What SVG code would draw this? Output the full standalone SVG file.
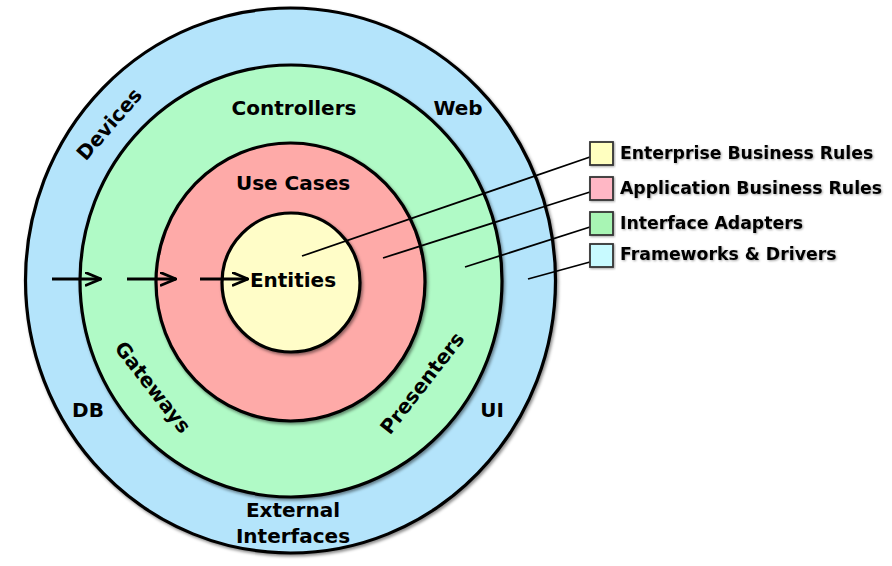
<svg xmlns="http://www.w3.org/2000/svg" width="892" height="566" viewBox="0 0 892 566">
<defs>
<filter id="sh" x="-10%" y="-10%" width="120%" height="120%">
<feDropShadow dx="1.5" dy="2" stdDeviation="1.8" flood-color="#000" flood-opacity="0.45"/>
</filter>
<filter id="tsh" x="-10%" y="-30%" width="120%" height="160%">
<feDropShadow dx="1" dy="1" stdDeviation="0.8" flood-color="#000" flood-opacity="0.35"/>
</filter>
<marker id="chev" viewBox="0 0 17 15" refX="16" refY="7.5" markerWidth="17" markerHeight="15" markerUnits="userSpaceOnUse" orient="auto">
<path d="M1,1.2 L16,7.5 L1,13.8" fill="none" stroke="#000" stroke-width="2.8" stroke-linecap="round" stroke-linejoin="round"/>
</marker>
</defs>
<style>
.ring{stroke:#000;stroke-width:3.2;filter:url(#sh)}
.lbl{font-family:"DejaVu Sans",Verdana,sans-serif;font-weight:bold;font-size:20px;fill:#000;text-anchor:middle}
.leg{font-family:"DejaVu Sans",Verdana,sans-serif;font-weight:bold;font-size:17.3px;fill:#000;filter:url(#tsh)}
.box{stroke:#333;stroke-width:1.8;filter:url(#tsh)}
.lead{stroke:#000;stroke-width:1.8;fill:none}
.arr{stroke:#000;stroke-width:2.8;fill:none;marker-end:url(#chev)}
</style>
<rect width="892" height="566" fill="#fff"/>
<g id="frameworks-drivers">
<ellipse class="ring" cx="290.5" cy="280.5" rx="265" ry="272.5" fill="#b4e4fb"/>
<text class="lbl" x="0" y="0" dy="0.36em" transform="translate(109,124) rotate(-49)">Devices</text>
<text class="lbl" x="458" y="115">Web</text>
<text class="lbl" x="88" y="417">DB</text>
<text class="lbl" x="492" y="417">UI</text>
<text class="lbl" x="293" y="517">External</text>
<text class="lbl" x="293" y="543">Interfaces</text>
</g>
<g id="interface-adapters">
<ellipse class="ring" cx="291" cy="281" rx="211" ry="216" fill="#b0fac6"/>
<text class="lbl" x="294" y="115">Controllers</text>
<text class="lbl" x="0" y="0" dy="0.36em" transform="translate(153,387) rotate(52)">Gateways</text>
<text class="lbl" x="0" y="0" dy="0.36em" transform="translate(422,383) rotate(-52)">Presenters</text>
</g>
<g id="application-business-rules">
<ellipse class="ring" cx="290.5" cy="282" rx="134.5" ry="139" fill="#feaaa8"/>
<text class="lbl" x="293" y="190">Use Cases</text>
</g>
<g id="enterprise-business-rules">
<ellipse class="ring" cx="291" cy="282.5" rx="69" ry="69.5" fill="#fffdc8"/>
<text class="lbl" x="293" y="287">Entities</text>
</g>
<g id="connectors">
<line class="arr" x1="52" y1="279" x2="101" y2="279"/>
<line class="arr" x1="127" y1="279" x2="176" y2="279"/>
<line class="arr" x1="200" y1="279" x2="248" y2="279"/>
<line class="lead" x1="302" y1="256" x2="590" y2="157"/>
<line class="lead" x1="383" y1="258" x2="590" y2="192"/>
<line class="lead" x1="465" y1="267" x2="590" y2="227"/>
<line class="lead" x1="528" y1="279" x2="590" y2="262"/>
</g>
<g id="legend-enterprise">
<rect class="box" x="590" y="142" width="23" height="23" fill="#ffffc0"/>
<text class="leg" x="620" y="159">Enterprise Business Rules</text>
</g>
<g id="legend-application">
<rect class="box" x="590" y="177" width="23" height="23" fill="#ffb7c5"/>
<text class="leg" x="620" y="194">Application Business Rules</text>
</g>
<g id="legend-adapters">
<rect class="box" x="590" y="212" width="23" height="23" fill="#a8f5b4"/>
<text class="leg" x="620" y="229">Interface Adapters</text>
</g>
<g id="legend-frameworks">
<rect class="box" x="590" y="244" width="23" height="23" fill="#c8faff"/>
<text class="leg" x="620" y="260">Frameworks &amp; Drivers</text>
</g>
</svg>
